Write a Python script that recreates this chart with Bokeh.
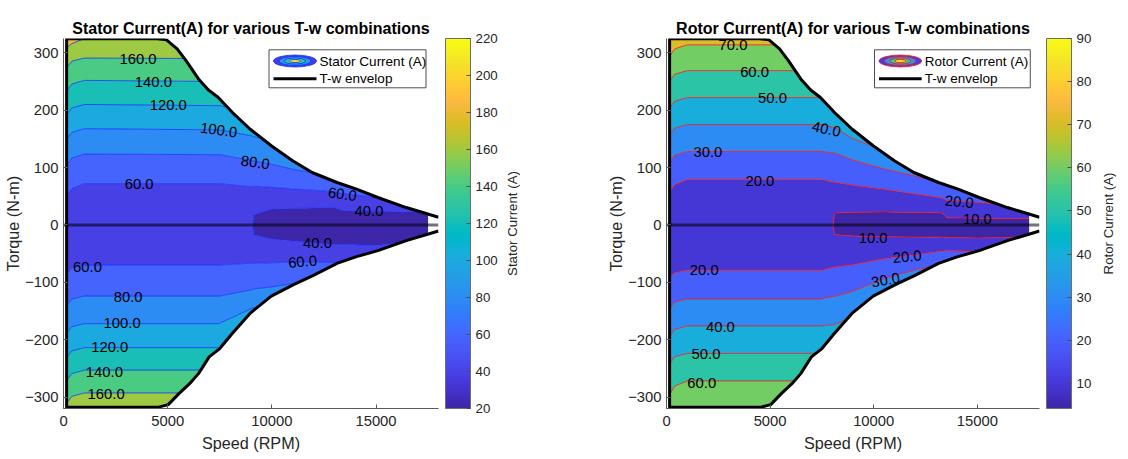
import numpy as np
from bokeh.plotting import figure
from bokeh.layouts import row
from bokeh.models import LinearColorMapper, ColorBar, FixedTicker, Range1d
from bokeh.core.properties import value
from bokeh.embed import file_html
from bokeh.resources import INLINE

FONT = "Liberation Sans"

# ---------------------------------------------------------------- axes data
speed_ticks = [0, 5000, 10000, 15000]
torque_ticks = [-300, -200, -100, 0, 100, 200, 300]
speed_lim = (0, 18000)
torque_lim = (-320, 325)

# ---------------------------------------------------------------- T-w envelope (motoring / generating limit)
env_top_speed = [150, 4500, 4945, 5456, 5882, 6479, 6956, 7417, 8099, 8951, 9974,
                 10997, 11935, 13129, 14066, 15089, 16453, 18000]
env_top_torque = [324.4, 324.4, 322.6, 306.9, 286.5, 254.5, 235.3, 222.5, 196.3, 167.2, 138.0,
                  111.8, 91.4, 74.0, 62.3, 47.8, 30.3, 13.5]
env_bot_speed = [150, 4518, 5030, 5541, 6053, 6479, 6991, 7502, 8099, 8951, 9974,
                 10997, 12020, 13129, 14066, 15089, 16453, 18000]
env_bot_torque = [-318, -318, -313.3, -294.1, -276.7, -259.2, -230.1, -215.5, -189.3, -154.3, -124.1,
                  -104.8, -87.4, -67.0, -55.3, -44.8, -27.4, -10.5]

# ---------------------------------------------------------------- stator current map (A)
stator_speed = [150, 400, 1000, 7500, 9000, 9150, 10000, 11000, 13000, 13400, 15000, 17500]
stator_torque = [-320, -290, -250, -210, -170, -125, -70, -35, -17, 0, 17, 35, 72, 125, 170, 210, 250, 290, 325]
stator_150 = [164.7, 149.5, 129.3, 109.5, 91.6, 73.7, 54.9, 47.0, 45.1, 47.2, 51.0, 55.4, 67.0, 88.8, 109.6, 128.6, 148.2, 168.0, 190.0]
stator_400 = [170.9, 155.5, 135.4, 115.2, 96.5, 78.2, 58.3, 49.0, 46.4, 45.7, 48.4, 52.5, 62.3, 83.3, 103.9, 122.9, 142.1, 162.3, 186.0]
stator_1000 = [174.0, 158.5, 138.5, 118.0, 99.0, 80.4, 60.0, 50.0, 47.0, 45.0, 47.0, 51.0, 60.0, 80.6, 101.0, 120.0, 139.0, 159.5, 180.2]
stator_7500 = [174.0, 158.5, 138.5, 118.0, 99.0, 80.4, 60.0, 50.0, 47.0, 45.0, 47.0, 51.0, 60.0, 81.0, 102.0, 121.0, 140.0, 160.0, 176.0]
stator_9000 = [190.0, 175.0, 155.0, 137.5, 116.7, 85.2, 60.8, 52.2, 48.0, 44.0, 47.9, 52.1, 61.4, 85.8, 106.8, 127.5, 147.5, 167.5, 185.0]
stator_9150 = [192.0, 177.0, 157.0, 143.0, 118.6, 86.2, 61.2, 47.1, 39.8, 34.0, 39.7, 46.8, 61.9, 86.4, 107.9, 128.5, 148.5, 168.5, 186.0]
stator_10000 = [200.0, 185.0, 165.0, 148.0, 124.0, 88.0, 62.0, 44.6, 36.5, 30.0, 35.7, 42.9, 63.6, 89.5, 110.0, 130.0, 150.0, 170.0, 188.0]
stator_11000 = [205.0, 190.0, 170.0, 150.0, 128.0, 92.0, 63.0, 43.0, 35.5, 28.0, 35.3, 42.6, 65.7, 96.0, 115.0, 135.0, 155.0, 175.0, 192.0]
stator_13000 = [215.0, 200.0, 180.0, 160.0, 140.0, 110.0, 63.0, 40.3, 33.0, 27.0, 34.0, 42.0, 71.0, 110.0, 135.0, 155.0, 170.0, 185.0, 200.0]
stator_13400 = [218.0, 203.0, 183.0, 163.0, 143.0, 112.0, 65.0, 40.5, 33.0, 27.0, 36.0, 45.0, 73.0, 112.0, 137.0, 157.0, 172.0, 187.0, 202.0]
stator_15000 = [230.0, 215.0, 195.0, 175.0, 155.0, 125.0, 70.0, 39.5, 33.5, 28.0, 34.5, 49.0, 80.0, 120.0, 145.0, 165.0, 180.0, 195.0, 210.0]
stator_17500 = [250.0, 235.0, 215.0, 195.0, 175.0, 140.0, 75.0, 44.0, 36.0, 31.0, 37.0, 48.0, 90.0, 130.0, 155.0, 175.0, 190.0, 205.0, 220.0]
stator_columns = [stator_150, stator_400, stator_1000, stator_7500, stator_9000, stator_9150,
                  stator_10000, stator_11000, stator_13000, stator_13400, stator_15000, stator_17500]
stator_levels = list(range(20, 261, 20))
stator_clim = (20, 220)
stator_cbar_ticks = list(range(20, 221, 20))

stator_label_level = [160, 140, 120, 100, 80, 60, 60, 40, 40, 60, 60, 80, 100, 120, 140, 160]
stator_label_speed = [3580, 4314, 5030, 7451, 9207, 3632, 13384, 14663, 12191, 1150, 11475, 3103, 2813, 2217, 1961, 2046]
stator_label_torque = [289.5, 249.9, 209.7, 165.4, 108.9, 72.2, 53.6, 24.5, -32.0, -72.8, -64.1, -125.2, -171.8, -212.6, -256.3, -294.1]
stator_label_angle = [0, 0, 0, -8, -8, 0, -8, 0, 0, 0, 5, 0, 0, 0, 0, 0]

# ---------------------------------------------------------------- rotor current map (A)
rotor_speed = [150, 400, 1000, 7500, 8000, 8120, 9000, 10500, 13000, 13300, 13550, 15000, 17500]
rotor_torque = [-320, -272, -224, -176, -129, -79, -40, -20, 0, 20, 40, 79, 128, 175, 222, 269, 314, 325]
rotor_150 = [63.8, 56.3, 46.3, 36.2, 26.4, 17.7, 13.2, 12.1, 12.9, 14.8, 17.3, 23.7, 33.8, 43.8, 53.8, 64.0, 74.9, 79.0]
rotor_400 = [65.3, 58.8, 48.8, 38.7, 28.8, 19.2, 14.4, 12.7, 12.3, 13.6, 15.8, 21.2, 31.3, 41.3, 51.3, 61.3, 71.6, 74.5]
rotor_1000 = [66.0, 60.0, 50.0, 40.0, 30.0, 20.0, 15.0, 13.0, 12.0, 13.0, 15.0, 20.0, 30.0, 40.0, 50.0, 60.0, 70.0, 73.0]
rotor_7500 = [66.0, 60.0, 50.0, 40.0, 30.0, 20.0, 15.0, 13.0, 12.0, 13.0, 15.0, 20.0, 30.0, 40.0, 50.0, 60.0, 70.0, 73.0]
rotor_8000 = [75.0, 65.0, 52.0, 40.4, 30.8, 20.8, 14.5, 12.0, 11.0, 12.0, 15.0, 20.6, 30.5, 41.1, 51.5, 62.0, 72.0, 75.0]
rotor_8120 = [75.0, 65.0, 52.0, 40.5, 30.9, 20.9, 14.5, 10.4, 8.0, 9.8, 14.8, 20.7, 30.6, 41.2, 51.6, 62.0, 72.0, 75.0]
rotor_9000 = [80.0, 70.0, 57.0, 43.6, 32.9, 22.0, 14.0, 10.1, 7.0, 9.6, 13.7, 22.1, 33.5, 47.3, 58.0, 68.0, 78.0, 80.0]
rotor_10500 = [90.0, 80.0, 68.0, 56.0, 41.5, 25.2, 15.1, 9.8, 6.0, 9.3, 14.4, 24.3, 39.2, 55.0, 70.0, 80.0, 88.0, 90.0]
rotor_13000 = [110.0, 100.0, 90.0, 75.0, 52.0, 33.5, 17.0, 9.5, 5.0, 9.5, 17.0, 30.5, 48.0, 65.0, 80.0, 90.0, 98.0, 100.0]
rotor_13300 = [112.0, 102.0, 92.0, 77.0, 54.0, 34.5, 17.5, 9.6, 5.0, 9.6, 17.5, 31.5, 50.0, 67.0, 82.0, 92.0, 100.0, 102.0]
rotor_13550 = [115.0, 105.0, 95.0, 80.0, 56.0, 35.5, 18.0, 9.2, 5.0, 13.0, 19.0, 33.0, 52.0, 69.0, 84.0, 94.0, 102.0, 104.0]
rotor_15000 = [125.0, 115.0, 105.0, 90.0, 65.0, 40.0, 16.0, 9.0, 5.0, 13.5, 20.2, 36.0, 58.0, 75.0, 90.0, 100.0, 108.0, 110.0]
rotor_17500 = [140.0, 130.0, 120.0, 105.0, 80.0, 48.0, 22.0, 9.0, 5.0, 14.0, 24.0, 42.0, 65.0, 82.0, 98.0, 110.0, 118.0, 120.0]
rotor_columns = [rotor_150, rotor_400, rotor_1000, rotor_7500, rotor_8000, rotor_8120, rotor_9000,
                 rotor_10500, rotor_13000, rotor_13300, rotor_13550, rotor_15000, rotor_17500]
rotor_levels = list(range(0, 151, 10))
rotor_clim = (4.2, 90)
rotor_cbar_ticks = list(range(10, 91, 10))

rotor_label_level = [70, 60, 50, 40, 30, 20, 20, 10, 10, 20, 20, 30, 40, 50, 60]
rotor_label_speed = [3208, 4248, 5115, 7716, 1994, 4508, 14132, 15000, 9971, 11618, 1821, 10577, 2601, 1907, 1699]
rotor_label_torque = [312.8, 267.3, 221.3, 167.2, 126.4, 76.9, 40.2, 9.9, -23.3, -55.3, -78.6, -96.1, -177.6, -225.4, -274.9]
rotor_label_angle = [0, 0, 0, -12, 0, 0, -5, 0, 0, 5, 0, 10, 0, 0, 0]

# ---------------------------------------------------------------- parula colormap
PARULA = np.array([
    (0.2422, 0.1504, 0.6603), (0.2504, 0.1650, 0.7076), (0.2578, 0.1818, 0.7511), (0.2647, 0.1978, 0.7952),
    (0.2706, 0.2147, 0.8364), (0.2751, 0.2342, 0.8710), (0.2783, 0.2559, 0.8991), (0.2803, 0.2782, 0.9221),
    (0.2813, 0.3006, 0.9414), (0.2810, 0.3228, 0.9579), (0.2795, 0.3447, 0.9717), (0.2760, 0.3667, 0.9829),
    (0.2699, 0.3892, 0.9906), (0.2602, 0.4123, 0.9952), (0.2440, 0.4358, 0.9988), (0.2206, 0.4603, 0.9973),
    (0.1963, 0.4847, 0.9892), (0.1834, 0.5074, 0.9798), (0.1786, 0.5289, 0.9682), (0.1764, 0.5499, 0.9520),
    (0.1687, 0.5703, 0.9359), (0.1540, 0.5902, 0.9218), (0.1460, 0.6091, 0.9079), (0.1380, 0.6276, 0.8973),
    (0.1248, 0.6459, 0.8883), (0.1113, 0.6635, 0.8763), (0.0952, 0.6798, 0.8598), (0.0689, 0.6948, 0.8394),
    (0.0297, 0.7082, 0.8163), (0.0036, 0.7203, 0.7917), (0.0067, 0.7312, 0.7660), (0.0433, 0.7411, 0.7394),
    (0.0964, 0.7500, 0.7120), (0.1408, 0.7584, 0.6842), (0.1717, 0.7670, 0.6554), (0.1938, 0.7758, 0.6251),
    (0.2161, 0.7843, 0.5923), (0.2470, 0.7918, 0.5567), (0.2906, 0.7973, 0.5188), (0.3406, 0.8008, 0.4789),
    (0.3909, 0.8029, 0.4354), (0.4456, 0.8024, 0.3909), (0.5044, 0.7993, 0.3480), (0.5616, 0.7942, 0.3045),
    (0.6174, 0.7876, 0.2612), (0.6720, 0.7793, 0.2227), (0.7242, 0.7698, 0.1910), (0.7738, 0.7598, 0.1646),
    (0.8203, 0.7498, 0.1535), (0.8634, 0.7406, 0.1596), (0.9035, 0.7330, 0.1774), (0.9393, 0.7288, 0.2100),
    (0.9728, 0.7298, 0.2394), (0.9956, 0.7434, 0.2371), (0.9970, 0.7659, 0.2199), (0.9952, 0.7893, 0.2028),
    (0.9892, 0.8136, 0.1885), (0.9786, 0.8386, 0.1766), (0.9676, 0.8639, 0.1643), (0.9610, 0.8890, 0.1537),
    (0.9597, 0.9135, 0.1423), (0.9628, 0.9373, 0.1265), (0.9691, 0.9606, 0.1064), (0.9769, 0.9839, 0.0805),
])
NCOL = len(PARULA)


def to_hex(c):
    return "#%02x%02x%02x" % tuple(int(round(v * 255)) for v in c)


def parula_at(t):
    idx = min(max(int(t * NCOL), 0), NCOL - 1)
    return to_hex(PARULA[idx])


_t = np.linspace(0, NCOL - 1, 256)
PARULA_256 = [to_hex([np.interp(k, np.arange(NCOL), PARULA[:, ch]) for ch in range(3)]) for k in _t]

# ---------------------------------------------------------------- layout / style
HEIGHT = 459
TOP, BOTTOM = 38, 51
TICK_SIZE = "14.8px"
LABEL_SIZE = "16.2px"
TITLE_SIZE = "16px"
SMALL_SIZE = "13.3px"
TEXT_COLOR = "#262626"


def band_colors(levels, clim):
    lo, hi = clim
    return [parula_at((max(l, lo) - lo) / (hi - lo)) for l in levels[:-1]]


def build_panel(title, speed, torque, columns, levels, clim, cbar_ticks, line_color,
                lab_level, lab_speed, lab_torque, lab_angle, legend_name,
                width, border_left, border_right, legend_left):
    fw = width - border_left - border_right
    fh = HEIGHT - TOP - BOTTOM
    x0, x1 = speed_lim
    y0, y1 = torque_lim

    def dx(px):
        return x0 + px / fw * (x1 - x0)

    def dy(py):
        return y1 - py / fh * (y1 - y0)

    p = figure(width=width, height=HEIGHT, x_range=Range1d(x0, x1), y_range=Range1d(y0, y1),
               output_backend="svg", toolbar_location=None,
               min_border_left=border_left, min_border_right=border_right,
               min_border_top=TOP, min_border_bottom=BOTTOM, title=title)
    p.outline_line_color = None
    p.xgrid.visible = False
    p.ygrid.visible = False

    p.title.align = "center"
    p.title.text_font = FONT
    p.title.text_font_size = TITLE_SIZE
    p.title.text_font_style = "bold"
    p.title.text_color = "black"
    p.title.standoff = 3

    for ax, ticks, lab in ((p.xaxis, speed_ticks, "Speed (RPM)"), (p.yaxis, torque_ticks, "Torque (N-m)")):
        ax.ticker = FixedTicker(ticks=ticks)
        ax.axis_label = lab
        ax.axis_label_text_font = FONT
        ax.axis_label_text_font_size = LABEL_SIZE
        ax.axis_label_text_font_style = "normal"
        ax.axis_label_text_color = TEXT_COLOR
        ax.major_label_text_font = FONT
        ax.major_label_text_font_size = TICK_SIZE
        ax.major_label_text_color = TEXT_COLOR
        ax.axis_line_color = "#5a5a5a"
        ax.major_tick_line_color = "#5a5a5a"
        ax.major_tick_in = 4
        ax.major_tick_out = 0
        ax.minor_tick_line_color = None
    p.xaxis.major_label_standoff = 7
    p.xaxis.axis_label_standoff = 5
    p.yaxis.major_label_standoff = 5
    p.yaxis.axis_label_standoff = 0

    # filled contour map
    z = np.column_stack([np.asarray(c, dtype=float) for c in columns])
    p.contour(x=np.asarray(speed, dtype=float), y=np.asarray(torque, dtype=float), z=z, levels=levels,
              fill_color=band_colors(levels, clim), line_color=line_color, line_width=0.8)

    # blank out everything beyond the T-w envelope
    p.patch(x=env_top_speed + [x1 + 2000, x1 + 2000, env_top_speed[0]],
            y=env_top_torque + [env_top_torque[-1], y1 + 80, y1 + 80],
            fill_color="white", line_color=None)
    p.patch(x=env_bot_speed + [x1 + 2000, x1 + 2000, env_bot_speed[0]],
            y=env_bot_torque + [env_bot_torque[-1], y0 - 80, y0 - 80],
            fill_color="white", line_color=None)

    # zero-torque line and envelope
    p.line(x=[x0, x1], y=[0, 0], line_color="black", line_alpha=0.55, line_width=3)
    p.line(x=env_bot_speed[::-1] + env_top_speed, y=env_bot_torque[::-1] + env_top_torque,
           line_color="black", line_width=3, line_join="round")

    # inline contour labels
    p.text(x=lab_speed, y=lab_torque, text=["%.1f" % v for v in lab_level],
           angle=[np.deg2rad(a) for a in lab_angle], text_align="center", text_baseline="middle",
           text_font=value(FONT), text_font_size=TICK_SIZE, text_color="black")

    # legend
    L = legend_left
    p.quad(left=[dx(L)], right=[dx(L + 157)], top=[dy(11.3)], bottom=[dy(49.3)],
           fill_color="white", line_color="#4d4d4d", line_width=1)
    cx, cy = dx(L + 26), dy(22.5)
    ew, eh = dx(43) - x0, y1 - dy(12)
    scales = [1.0, 0.74, 0.5, 0.26]
    p.ellipse(x=[cx] * 4, y=[cy] * 4, width=[ew * s for s in scales], height=[eh * s for s in scales],
              fill_color=[parula_at(0.08), parula_at(0.35), parula_at(0.55), parula_at(0.92)],
              line_color=line_color, line_width=0.8)
    p.line(x=[dx(L + 4.5), dx(L + 47.5)], y=[dy(40.3)] * 2, line_color="black", line_width=3)
    p.text(x=[dx(L + 50.6)] * 2, y=[dy(22.5), dy(40.3)], text=[legend_name, "T-w envelop"],
           text_align="left", text_baseline="middle", text_font=value(FONT),
           text_font_size="13.5px", text_color="black")

    # colour bar
    mapper = LinearColorMapper(palette=PARULA_256, low=clim[0], high=clim[1])
    cb = ColorBar(color_mapper=mapper, ticker=FixedTicker(ticks=cbar_ticks), width=25, height=fh,
                  location=(7, 0), padding=0, margin=0, label_standoff=5,
                  major_tick_in=4, major_tick_out=0,
                  major_tick_line_color="#4d4d4d", minor_tick_line_color=None,
                  bar_line_color="#6e6e6e", bar_line_width=1,
                  major_label_text_font=FONT, major_label_text_font_size=SMALL_SIZE,
                  major_label_text_color=TEXT_COLOR, background_fill_alpha=0)
    p.add_layout(cb, "right")
    return p


def colorbar_title(text, width):
    """Narrow strip whose left axis carries the rotated colour-bar caption."""
    s = figure(width=width, height=HEIGHT, x_range=Range1d(0, 1), y_range=Range1d(0, 1),
               output_backend="svg", toolbar_location=None,
               min_border_left=width - 1, min_border_right=0,
               min_border_top=TOP, min_border_bottom=BOTTOM)
    s.outline_line_color = None
    s.xgrid.visible = False
    s.ygrid.visible = False
    s.xaxis.visible = False
    ax = s.yaxis[0]
    ax.ticker = FixedTicker(ticks=[])
    ax.axis_label = text
    ax.axis_label_text_font = FONT
    ax.axis_label_text_font_size = SMALL_SIZE
    ax.axis_label_text_font_style = "normal"
    ax.axis_label_text_color = TEXT_COLOR
    ax.major_tick_line_color = None
    ax.minor_tick_line_color = None
    ax.axis_line_color = None
    ax.major_label_standoff = 0
    ax.axis_label_standoff = 0
    ax.major_tick_in = 0
    ax.major_tick_out = 0
    return s


p1 = build_panel("Stator Current(A) for various T-w combinations", stator_speed, stator_torque,
                 stator_columns, stator_levels, stator_clim, stator_cbar_ticks, "#1530ff",
                 stator_label_level, stator_label_speed, stator_label_torque, stator_label_angle,
                 "Stator Current (A)", width=500, border_left=63, border_right=62, legend_left=205.5)
p2 = build_panel("Rotor Current(A) for various T-w combinations", rotor_speed, rotor_torque,
                 rotor_columns, rotor_levels, rotor_clim, rotor_cbar_ticks, "#ff1010",
                 rotor_label_level, rotor_label_speed, rotor_label_torque, rotor_label_angle,
                 "Rotor Current (A)", width=574, border_left=146, border_right=52, legend_left=209.7)

layout = row(p1, colorbar_title("Stator Current (A)", 20), p2, colorbar_title("Rotor Current (A)", 22))
open("out.html", "w").write(file_html(layout, INLINE))
